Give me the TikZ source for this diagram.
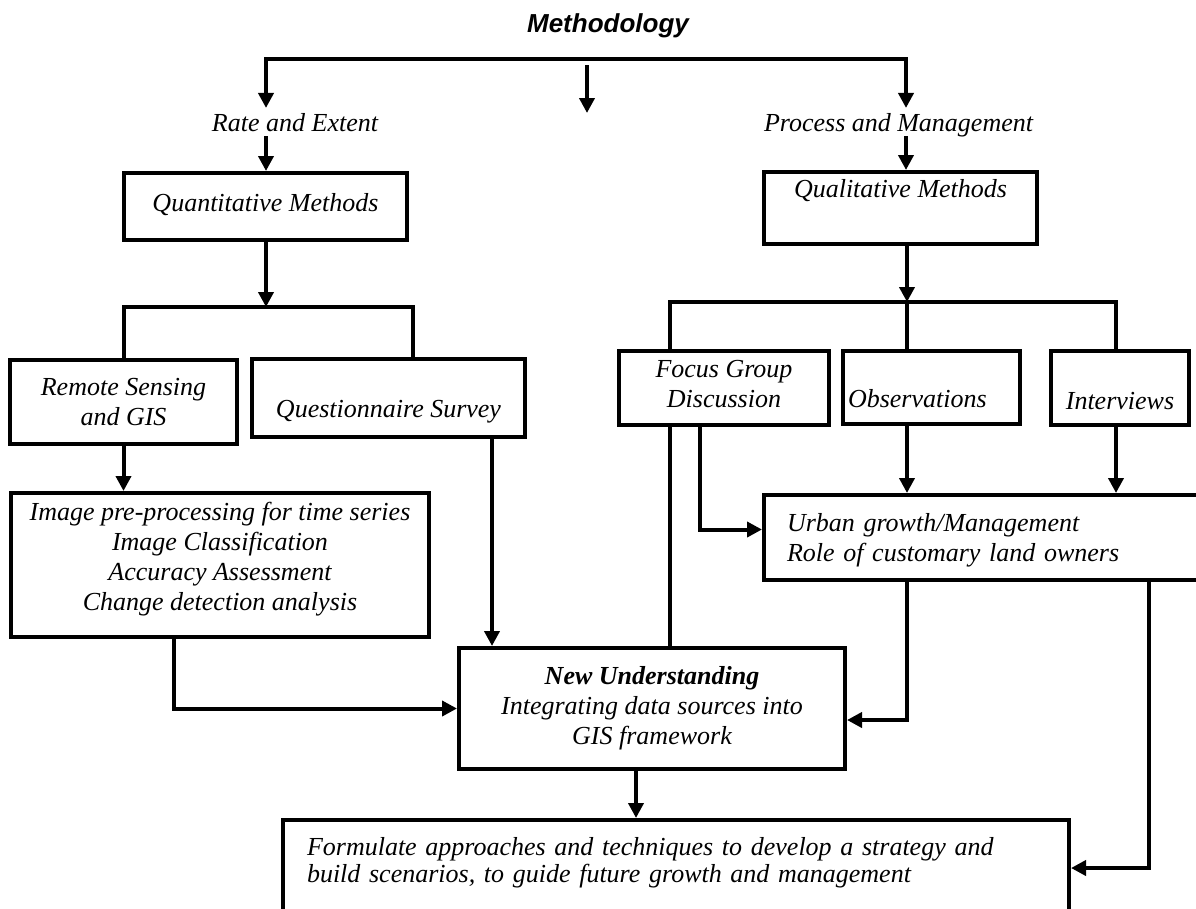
\documentclass[tikz,border=0pt]{standalone}
\usepackage{fontspec}
\setmainfont{Liberation Serif}
\newfontfamily\headfont{Liberation Sans}
\usetikzlibrary{arrows.meta}

\tikzstyle{block}=[rectangle,
                   draw=black,
                   line width=4pt,
                   inner xsep=0pt,
                   inner ysep=0pt,
                   anchor=north west]
\tikzstyle{caption}=[inner xsep=2pt,
                     inner ysep=3pt,
                     text depth=0pt,
                     anchor=base]

\begin{document}
\begin{tikzpicture}[x=1pt,y=-1pt,>={Triangle[length=15pt,width=15pt]},line width=4pt,
                    font=\fontsize{26}{30}\selectfont\itshape]
  \useasboundingbox (0,0) rectangle (1196,908);
  \clip (0,0) rectangle (1196,908);

  \node (method) [caption,font=\headfont\bfseries\itshape\fontsize{26}{30}\selectfont] at (608,32) {Methodology};
  \node (rate) [caption] at (295,131) {Rate and Extent};
  \node (process) [caption,anchor=base west] at (760,131) {Process and Management};

  \node (quant) [block,minimum width=283pt,text height=38pt,text depth=29pt] at (122,171) {Quantitative Methods};
  \node (qual) [block,minimum width=273pt,text height=25pt,text depth=47pt] at (762,170) {Qualitative Methods};

  \node (rs) [block,align=center,minimum width=227pt,text height=65pt,text depth=19pt] at (8,358) {Remote Sensing\\and GIS};
  \node (qs) [block,minimum width=273pt,text height=58pt,text depth=20pt] at (250,357) {Questionnaire Survey};
  \node (fg) [block,align=center,minimum width=210pt,text height=56pt,text depth=18pt] at (617,349) {Focus Group\\Discussion};
  \node (obs) [block,inner xsep=5pt,text width=167pt,align=left,text height=56pt,text depth=17pt] at (841,349) {Observations};
  \node (int) [block,minimum width=138pt,text height=58pt,text depth=16pt] at (1049,349) {Interviews};

  \node (img) [block,align=center,minimum width=418pt,text height=117pt,text depth=27pt] at (9,491)
    {Image pre-processing for time series\\Image Classification\\Accuracy Assessment\\Change detection analysis};
  \node (urban) [block,inner xsep=23pt,text width=422pt,align=left,text height=36pt,text depth=49pt] at (762,493)
    {Urban growth/Management\\Role of customary land owners};
  \node (nu) [block,align=center,minimum width=386pt,text height=96pt,text depth=25pt] at (457,646)
    {\textbf{New Understanding}\\Integrating data sources into\\GIS framework};
  \node (form) [block,inner xsep=24pt,text width=738pt,align=left,text height=35pt,text depth=61pt,
                font=\fontsize{26}{27}\selectfont\itshape] at (281,818)
    {Formulate approaches and techniques to develop a strategy and\\build scenarios, to guide future growth and management};

  \coordinate (barL) at (266,59);
  \coordinate (barR) at (906,59);
  \coordinate (midtop) at (587,65);
  \coordinate (midtip) at (587,113);
  \coordinate (qsplit) at (266,307);
  \coordinate (psplit) at (907,302);

  % The boxes are now connected through arrows:
  \draw[<->] (barL |- rate.north) -- (barL) -- (barR) -- (barR |- process.north);
  \draw[->] (midtop) -- (midtip);
  \draw[->] (rate.south -| barL) -- (quant.north -| barL);
  \draw[->] (process.south -| barR) -- (qual.north -| barR);

  \draw[->] (quant.south -| qsplit) -- (qsplit);
  \draw (rs.north) |- (qsplit) -| ([xshift=24.5pt]qs.north);
  \draw[->] (rs.south) -- (rs.south |- img.north);
  \draw[->] ([xshift=103.5pt]qs.south) -- ([xshift=103.5pt]qs.south |- nu.north);
  \draw[->] ([xshift=-46pt]img.south) |- (nu.west);

  \draw[->] (qual.south -| psplit) -- (psplit);
  \draw ([xshift=-54pt]fg.north) |- (psplit) -| ([xshift=-4pt]int.north);
  \draw (psplit) -- (psplit |- obs.north);
  \draw ([xshift=-54pt]fg.south) -- ([xshift=-54pt]fg.south |- nu.north);
  \draw[->] ([xshift=-24pt]fg.south) |- ([yshift=8pt]urban.west);
  \draw[->] (obs.south -| psplit) -- (psplit |- urban.north);
  \draw[->] ([xshift=-4pt]int.south) -- ([xshift=-4pt]int.south |- urban.north);
  \draw[->] (urban.south -| psplit) |- ([yshift=-11.5pt]nu.east);
  \draw[->] ([xshift=151pt]urban.south) |- (form.east);
  \draw[->] ([xshift=-16pt]nu.south) -- ([xshift=-16pt]nu.south |- form.north);
\end{tikzpicture}
\end{document}
